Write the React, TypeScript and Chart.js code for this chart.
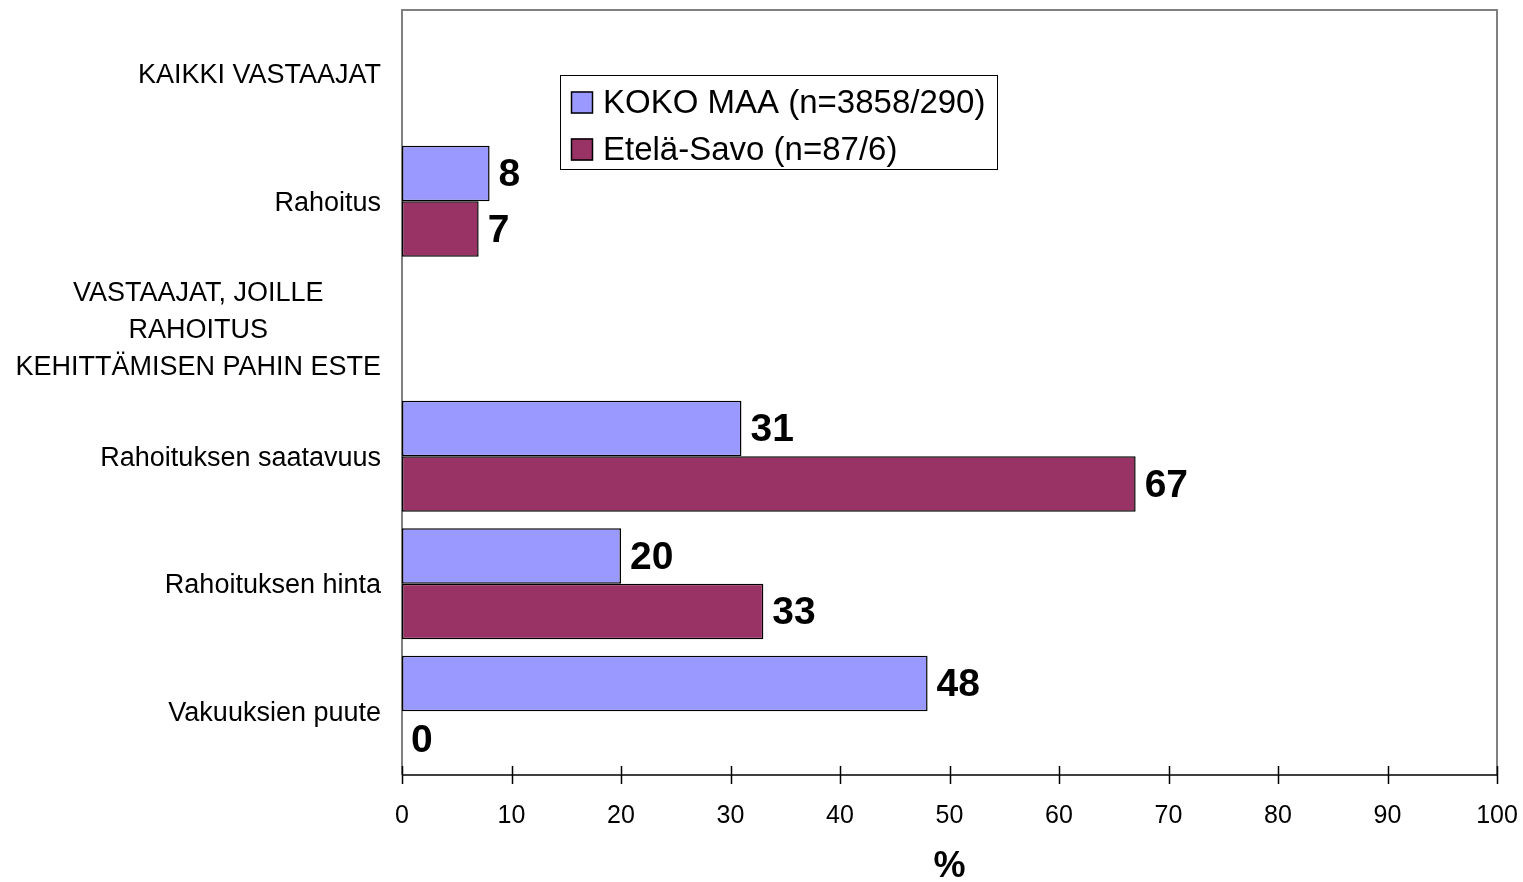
import React, { useEffect, useRef } from "react";
import { Chart, registerables } from "chart.js";

Chart.register(...registerables);

const categories: (string | string[])[] = [
  "KAIKKI VASTAAJAT",
  "Rahoitus",
  ["VASTAAJAT, JOILLE", "RAHOITUS", "KEHITTÄMISEN PAHIN ESTE"],
  "Rahoituksen saatavuus",
  "Rahoituksen hinta",
  "Vakuuksien puute",
];
const kokoMaa: (number | null)[] = [null, 8, null, 31, 20, 48];
const etelaSavo: (number | null)[] = [null, 7, null, 67, 33, 0];
const seriesNames = ["KOKO MAA (n=3858/290)", "Etelä-Savo (n=87/6)"];
const xTicks = [0, 10, 20, 30, 40, 50, 60, 70, 80, 90, 100];

const FONT = "'Liberation Sans', Arial, sans-serif";
const BLUE = "#9999FF";
const MAROON = "#993366";

const framePlugin = {
  id: "frame",
  beforeDatasetsDraw(chart: any) {
    const { ctx, chartArea: a } = chart;
    ctx.save();
    ctx.strokeStyle = "#808080";
    ctx.lineWidth = 2;
    ctx.beginPath();
    ctx.moveTo(a.left, a.bottom);
    ctx.lineTo(a.left, a.top);
    ctx.lineTo(a.right, a.top);
    ctx.lineTo(a.right, a.bottom);
    ctx.stroke();
    ctx.restore();
  },
  afterDatasetsDraw(chart: any) {
    const { ctx, chartArea: a } = chart;
    const xs = chart.scales.x;
    ctx.save();
    ctx.strokeStyle = "#000";
    ctx.lineWidth = 1.5;
    ctx.beginPath();
    ctx.moveTo(a.left, a.bottom);
    ctx.lineTo(a.right, a.bottom);
    xTicks.forEach((t) => {
      const px = Math.round(xs.getPixelForValue(t)) + 0.5;
      ctx.moveTo(px, a.bottom - 9);
      ctx.lineTo(px, a.bottom + 9);
    });
    ctx.stroke();
    ctx.restore();
  },
};

const labelsPlugin = {
  id: "valueLabels",
  afterDatasetsDraw(chart: any) {
    const { ctx } = chart;
    ctx.save();
    ctx.font = `bold 39px ${FONT}`;
    ctx.fillStyle = "#000";
    ctx.textAlign = "left";
    ctx.textBaseline = "middle";
    chart.data.datasets.forEach((ds: any, di: number) => {
      const meta = chart.getDatasetMeta(di);
      meta.data.forEach((el: any, i: number) => {
        const v = ds.data[i];
        if (v === null || v === undefined) return;
        ctx.fillText(String(v), el.x + 9, el.y + 2);
      });
    });
    ctx.restore();
  },
};

const yLabelsPlugin = {
  id: "yLabels",
  afterDraw(chart: any) {
    const { ctx, chartArea: a } = chart;
    const ys = chart.scales.y;
    const right = a.left - 21;
    const lh = 37;
    ctx.save();
    ctx.font = `27px ${FONT}`;
    ctx.fillStyle = "#000";
    ctx.textBaseline = "middle";
    ctx.textAlign = "center";
    categories.forEach((c, i) => {
      const lines = Array.isArray(c) ? c : [c];
      const w = Math.max(...lines.map((l) => ctx.measureText(l).width));
      const cx = right - w / 2;
      const cy = ys.getPixelForValue(i) + 2;
      lines.forEach((l, k) => {
        ctx.fillText(l, cx, cy + (k - (lines.length - 1) / 2) * lh);
      });
    });
    ctx.restore();
  },
};

const legendPlugin = {
  id: "boxLegend",
  afterDraw(chart: any) {
    const { ctx } = chart;
    const colors = [BLUE, MAROON];
    ctx.save();
    ctx.fillStyle = "#fff";
    ctx.fillRect(560, 75, 437, 94);
    ctx.strokeStyle = "#000";
    ctx.lineWidth = 1;
    ctx.strokeRect(560.5, 75.5, 437, 94);
    ctx.font = `33px ${FONT}`;
    ctx.textBaseline = "middle";
    ctx.textAlign = "left";
    seriesNames.forEach((n, i) => {
      const cy = 102.5 + i * 47;
      ctx.fillStyle = colors[i];
      ctx.fillRect(571, cy - 11, 22, 22);
      ctx.strokeStyle = "#000";
      ctx.lineWidth = 1.5;
      ctx.strokeRect(571.5, cy - 10.5, 21, 21);
      ctx.fillStyle = "#000";
      ctx.fillText(n, 603, cy + 1);
    });
    ctx.restore();
  },
};

export default function App() {
  const ref = useRef<HTMLCanvasElement>(null);
  useEffect(() => {
    if (!ref.current) return;
    const chart = new Chart(ref.current, {
      type: "bar",
      data: {
        labels: categories.map((c) => (Array.isArray(c) ? c.join(" ") : c)),
        datasets: [
          {
            label: seriesNames[0],
            data: kokoMaa,
            backgroundColor: BLUE,
            borderColor: "#000",
            borderWidth: 1.5,
            borderSkipped: false,
          },
          {
            label: seriesNames[1],
            data: etelaSavo,
            backgroundColor: MAROON,
            borderColor: "#000",
            borderWidth: 1.5,
            borderSkipped: false,
          },
        ],
      },
      options: {
        indexAxis: "y",
        responsive: false,
        animation: false,
        layout: { padding: { top: 10, right: 26, left: 0, bottom: 0 } },
        datasets: { bar: { barPercentage: 1, categoryPercentage: 0.87 } },
        plugins: {
          legend: { display: false },
          tooltip: { enabled: false },
        },
        scales: {
          x: {
            min: 0,
            max: 100,
            afterBuildTicks: (s: any) => {
              s.ticks = xTicks.map((v) => ({ value: v }));
            },
            afterFit: (s: any) => {
              s.height = 107;
              s.paddingLeft = 0;
              s.paddingRight = 0;
            },
            grid: { display: false, drawTicks: false },
            border: { display: false },
            ticks: {
              color: "#000",
              font: { family: FONT, size: 25 },
              padding: 26,
              maxRotation: 0,
            },
            title: {
              display: true,
              text: "%",
              color: "#000",
              font: { family: FONT, size: 36, weight: "bold" },
              padding: { top: 0, bottom: -7 },
            },
          },
          y: {
            afterFit: (s: any) => {
              s.width = 402;
            },
            grid: { display: false },
            border: { display: false },
            ticks: { display: false },
          },
        },
      },
      plugins: [framePlugin, labelsPlugin, yLabelsPlugin, legendPlugin],
    } as any);
    return () => chart.destroy();
  }, []);
  return (
    <div style={{ position: "fixed", left: 0, top: 0, width: 1523, height: 882, background: "#fff" }}>
      <canvas ref={ref} width={1523} height={882} style={{ display: "block" }} />
    </div>
  );
}
